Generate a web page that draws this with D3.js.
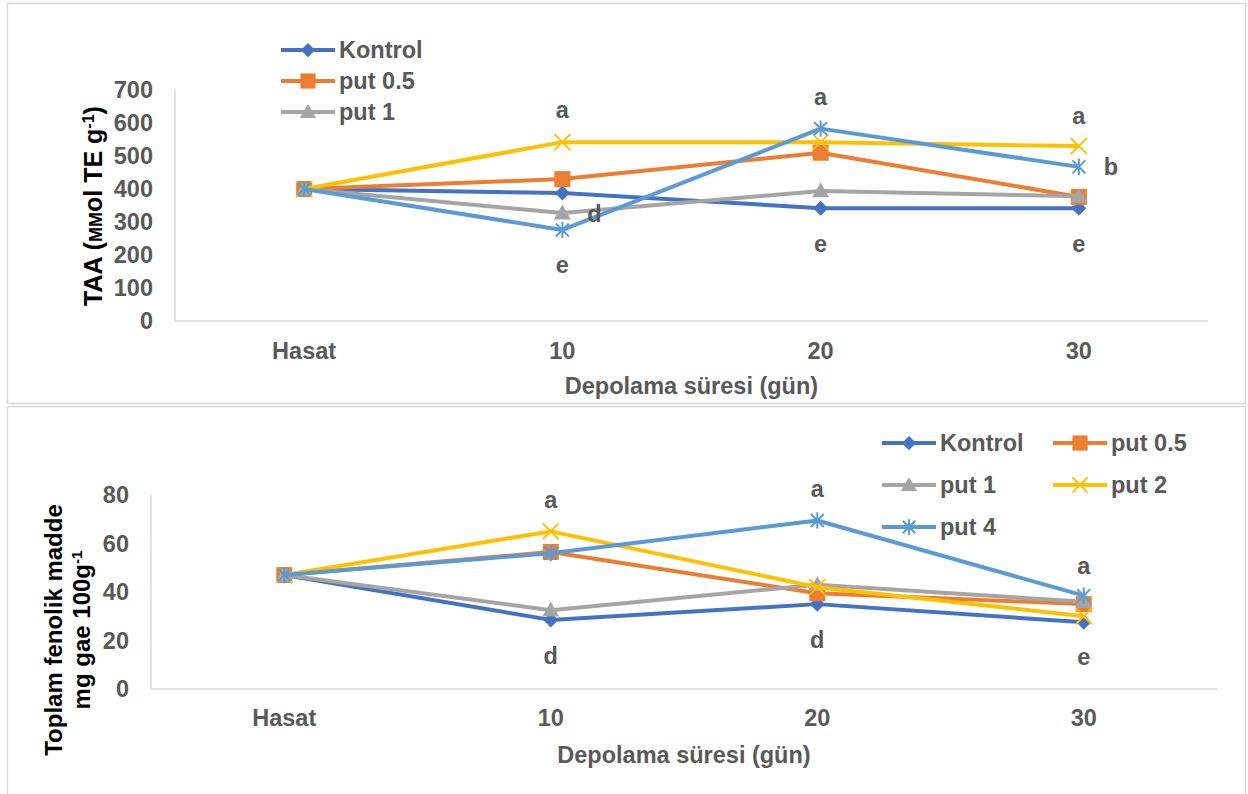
<!DOCTYPE html>
<html>
<head>
<meta charset="utf-8">
<script src="https://cdn.jsdelivr.net/npm/d3@7"></script>
<style>
  body { margin: 0; background: #fff; }
  text { font-family: "Liberation Sans", Arial, sans-serif; font-weight: bold; }
</style>
</head>
<body>
<div id="chart"></div>
<script>
// Categories (storage time) and series
const categories = ["Hasat", "10", "20", "30"];
const seriesNames = ["Kontrol", "put 0.5", "put 1", "put 2", "put 4"];
const seriesColors = ["#4472C4", "#ED7D31", "#A5A5A5", "#FFC000", "#5B9BD5"];
const seriesMarkers = ["diamond", "square", "triangle", "x", "star"];

// Top chart: TAA
const taaKontrol = [400, 388, 342, 342];
const taaPut05 = [400, 430, 510, 376];
const taaPut1 = [400, 327, 394, 378];
const taaPut2 = [400, 542, 542, 530];
const taaPut4 = [400, 276, 583, 467];
const taaTicks = [0, 100, 200, 300, 400, 500, 600, 700];
const taaLetters = [
    {cat: "10", value: 640, text: "a"},
    {cat: "10", value: 327, text: "d", side: "right"},
    {cat: "10", value: 170, text: "e"},
    {cat: "20", value: 679, text: "a"},
    {cat: "20", value: 236, text: "e"},
    {cat: "30", value: 624, text: "a"},
    {cat: "30", value: 467, text: "b", side: "right"},
    {cat: "30", value: 236, text: "e"}
];

// Bottom chart: total phenolics
const phenKontrol = [47, 28.5, 35, 27.5];
const phenPut05 = [47, 56.5, 39.5, 35];
const phenPut1 = [47, 32.5, 43, 36];
const phenPut2 = [47, 65, 42, 30];
const phenPut4 = [47, 56, 69.5, 38.5];
const phenTicks = [0, 20, 40, 60, 80];
const phenLetters = [
    {cat: "10", value: 78, text: "a"},
    {cat: "10", value: 13.6, text: "d"},
    {cat: "20", value: 82.5, text: "a"},
    {cat: "20", value: 20.6, text: "d"},
    {cat: "30", value: 51, text: "a"},
    {cat: "30", value: 13.2, text: "e"}
];

const textGrey = "#595959";
const axisGrey = "#D9D9D9";
const fontSize = 23.5;

const svg = d3.select("#chart").append("svg")
    .attr("width", 1248)
    .attr("height", 794);

// panel frames
svg.append("rect").attr("x", 7.5).attr("y", 3.5).attr("width", 1238).attr("height", 400)
    .attr("fill", "none").attr("stroke", axisGrey).attr("stroke-width", 1.5);
svg.append("rect").attr("x", 7.5).attr("y", 406.5).attr("width", 1238).attr("height", 400)
    .attr("fill", "none").attr("stroke", axisGrey).attr("stroke-width", 1.5);

function markerPath(type, r) {
    switch (type) {
        case "diamond": return `M0,${-r}L${r},0L0,${r}L${-r},0Z`;
        case "square": return `M${-r},${-r}H${r}V${r}H${-r}Z`;
        case "triangle": return `M0,${-r}L${r},${r * 0.75}L${-r},${r * 0.75}Z`;
        case "x": return `M${-r},${-r}L${r},${r}M${r},${-r}L${-r},${r}`;
        case "star": return `M${-r},${-r}L${r},${r}M${r},${-r}L${-r},${r}M0,${-r * 1.25}V${r * 1.25}`;
    }
}
const markerSize = {diamond: 7.5, square: 8, triangle: 8.5, x: 8, star: 6.5};

function drawMarker(g, type, color, cx, cy, scale) {
    const r = markerSize[type] * (scale || 1);
    const stroked = type === "x" || type === "star";
    g.append("path")
        .attr("transform", `translate(${cx},${cy})`)
        .attr("d", markerPath(type, r))
        .attr("fill", stroked ? "none" : color)
        .attr("stroke", stroked ? color : "none")
        .attr("stroke-width", 2);
}

function drawPanel(p) {
    const x = d3.scalePoint().domain(categories).range(p.xRange).padding(0.5);
    const y = d3.scaleLinear().domain(p.yDomain).range(p.yRange);
    const g = svg.append("g");

    // axes (Excel style: plain light lines, no tick marks)
    g.append("line")
        .attr("x1", p.xRange[0]).attr("x2", p.xRange[1])
        .attr("y1", y(0)).attr("y2", y(0))
        .attr("stroke", axisGrey).attr("stroke-width", 1.5);
    g.append("line")
        .attr("x1", p.xRange[0]).attr("x2", p.xRange[0])
        .attr("y1", y(0)).attr("y2", y(p.yDomain[1]))
        .attr("stroke", axisGrey).attr("stroke-width", 1.5);

    g.selectAll(".ytick")
        .data(p.ticks)
        .enter().append("text")
        .attr("x", p.xRange[0] - 22)
        .attr("y", d => y(d))
        .attr("dy", "0.36em")
        .attr("text-anchor", "end")
        .attr("fill", textGrey)
        .style("font-size", fontSize + "px")
        .text(d => d);

    g.selectAll(".xtick")
        .data(categories)
        .enter().append("text")
        .attr("x", d => x(d))
        .attr("y", p.catLabelY)
        .attr("dy", "0.36em")
        .attr("text-anchor", "middle")
        .attr("fill", textGrey)
        .style("font-size", fontSize + "px")
        .text(d => d);

    g.append("text")
        .attr("x", (p.xRange[0] + p.xRange[1]) / 2)
        .attr("y", p.xTitleY)
        .attr("dy", "0.36em")
        .attr("text-anchor", "middle")
        .attr("fill", textGrey)
        .style("font-size", fontSize + "px")
        .text("Depolama süresi (gün)");

    // series
    const line = d3.line()
        .x((d, i) => x(categories[i]))
        .y(d => y(d));

    p.values.forEach((vals, si) => {
        g.append("path")
            .datum(vals)
            .attr("d", line)
            .attr("fill", "none")
            .attr("stroke", seriesColors[si])
            .attr("stroke-width", 4)
            .attr("stroke-linejoin", "round");
        vals.forEach((v, i) => drawMarker(g, seriesMarkers[si], seriesColors[si], x(categories[i]), y(v)));
    });

    // significance letters
    g.selectAll(".letter")
        .data(p.letters)
        .enter().append("text")
        .attr("x", d => x(d.cat) + (d.side === "right" ? 32 : 0))
        .attr("y", d => y(d.value))
        .attr("dy", "0.36em")
        .attr("text-anchor", "middle")
        .attr("fill", textGrey)
        .style("font-size", fontSize + "px")
        .text(d => d.text);

    // legend
    p.legend.forEach((item, k) => {
        const si = seriesNames.indexOf(item.name);
        const lg = g.append("g").attr("transform", `translate(${item.x},${item.y})`);
        lg.append("line")
            .attr("x1", 0).attr("x2", 54)
            .attr("y1", 0).attr("y2", 0)
            .attr("stroke", seriesColors[si])
            .attr("stroke-width", 4);
        drawMarker(lg, seriesMarkers[si], seriesColors[si], 27, 0, 0.95);
        lg.append("text")
            .attr("x", 58)
            .attr("y", 0)
            .attr("dy", "0.36em")
            .attr("fill", textGrey)
            .style("font-size", fontSize + "px")
            .text(item.name);
    });
    return g;
}

// Top panel
const topPanel = drawPanel({
    xRange: [175, 1208],
    yRange: [321, 90],
    yDomain: [0, 700],
    ticks: taaTicks,
    catLabelY: 351,
    xTitleY: 386,
    values: [taaKontrol, taaPut05, taaPut1, taaPut2, taaPut4],
    letters: taaLetters,
    legend: [
        {name: "Kontrol", x: 281, y: 50},
        {name: "put 0.5", x: 281, y: 81},
        {name: "put 1", x: 281, y: 112}
    ]
});

const topTitle = topPanel.append("text")
    .attr("transform", "translate(102,206) rotate(-90)")
    .attr("text-anchor", "middle")
    .attr("fill", "#000")
    .style("font-size", "25px");
topTitle.append("tspan").text("TAA (");
topTitle.append("tspan").style("font-variant", "small-caps").text("mm");
topTitle.append("tspan").text("ol TE g");
topTitle.append("tspan").attr("baseline-shift", "super").style("font-size", "16px").text("-1");
topTitle.append("tspan").text(")");

// Bottom panel
const bottomPanel = drawPanel({
    xRange: [151, 1217],
    yRange: [689, 495],
    yDomain: [0, 80],
    ticks: phenTicks,
    catLabelY: 718,
    xTitleY: 755,
    values: [phenKontrol, phenPut05, phenPut1, phenPut2, phenPut4],
    letters: phenLetters,
    legend: [
        {name: "Kontrol", x: 882, y: 443},
        {name: "put 0.5", x: 1053, y: 443},
        {name: "put 1", x: 882, y: 485},
        {name: "put 2", x: 1053, y: 485},
        {name: "put 4", x: 882, y: 527}
    ]
});

const botTitle = bottomPanel.append("text")
    .attr("transform", "translate(62,630) rotate(-90)")
    .attr("text-anchor", "middle")
    .attr("fill", "#000")
    .style("font-size", "24px");
botTitle.append("tspan").attr("x", 0).attr("y", 0).text("Toplam fenolik madde");
const l2 = botTitle.append("tspan").attr("x", 0).attr("y", 28);
l2.append("tspan").text("mg gae 100g");
l2.append("tspan").attr("baseline-shift", "super").style("font-size", "15px").text("-1");
</script>
</body>
</html>
